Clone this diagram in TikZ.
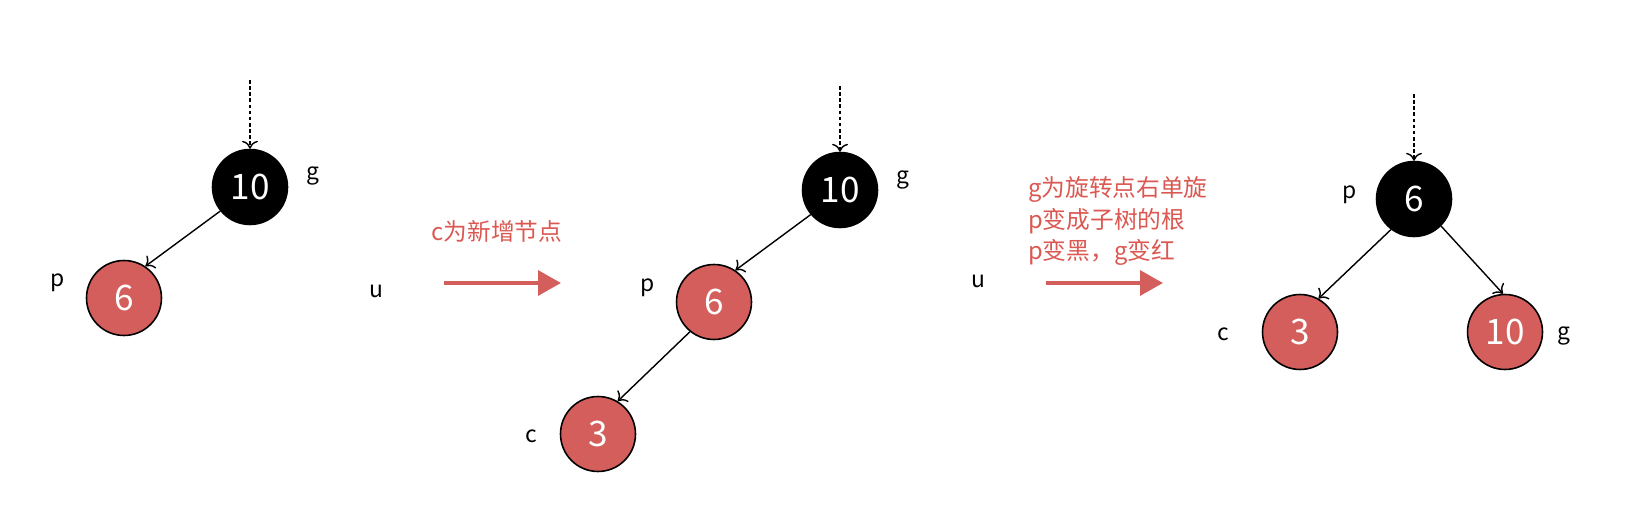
\documentclass[tikz,border=0pt]{standalone}
\usepackage{fontspec}
\setmainfont{Noto Sans CJK SC}
\usetikzlibrary{arrows.meta,positioning}
\definecolor{rbRed}{RGB}{211,94,92}
\definecolor{rbText}{RGB}{219,88,82}
\tikzset{
  rbnode/.style={circle,draw=black,line width=0.9pt,minimum size=1.5cm,inner sep=0pt,text=white,font=\fontsize{20}{24}\selectfont},
  rednode/.style={rbnode,fill=rbRed},
  blacknode/.style={rbnode,fill=black},
  tag/.style={font=\fontsize{13}{16}\selectfont},
  note/.style={text=rbText,font=\fontsize{13.5}{18}\selectfont,align=left},
  link/.style={-{To[length=4.5pt,width=9pt]},line width=0.8pt},
  entry/.style={dash pattern=on 2pt off 1.5pt,-{To[length=4.5pt,width=9pt]},line width=0.8pt},
  turn/.style={rbRed,line width=2.2pt,-{Triangle[length=13pt,width=14pt]}}
}

\begin{document}
\begin{tikzpicture}[x=0.02cm,y=-0.02cm]
    \useasboundingbox (0,0) rectangle (1632,526);

    \node[blacknode] (g1) at (250,187) {10};
    \node[rednode] (p1) at (124,298) {6};
    \coordinate (top1) at (250,80);
    \node[tag] (g1tag) at (313,176) {g};
    \node[tag] (p1tag) at (58,283) {p};
    \node[tag] (u1tag) at (376,291) {u};
    \draw[entry] (top1) -- (g1);
    \draw[link] (g1.219) -- (p1.56);

    \coordinate (a1s) at (444,283);
    \coordinate (a1e) at (561,283);
    \draw[turn] (a1s) -- (a1e);
    \node[note] (n1) at (497,231) {c为新增节点};

    \node[blacknode] (g2) at (840,190) {10};
    \node[rednode] (p2) at (714,302) {6};
    \node[rednode] (c2) at (598,434) {3};
    \coordinate (top2) at (840,86);
    \node[tag] (g2tag) at (903,180) {g};
    \node[tag] (p2tag) at (648,288) {p};
    \node[tag] (c2tag) at (531,436) {c};
    \node[tag] (u2tag) at (978,281) {u};
    \draw[entry] (top2) -- (g2);
    \draw[link] (g2.220) -- (p2.56);
    \draw[link] (p2.231) -- (c2.59);

    \coordinate (a2s) at (1046,283);
    \coordinate (a2e) at (1163,283);
    \draw[turn] (a2s) -- (a2e);
    \node[note,anchor=west] (n2) at (1022,221) {g为旋转点右单旋\\p变成子树的根\\p变黑，g变红};

    \node[blacknode] (p3) at (1414,199) {6};
    \node[rednode] (c3) at (1300,332) {3};
    \node[rednode] (g3) at (1505,332) {10};
    \coordinate (top3) at (1414,94);
    \node[tag] (p3tag) at (1350,195) {p};
    \node[tag] (c3tag) at (1223,334) {c};
    \node[tag] (g3tag) at (1564,336) {g};
    \draw[entry] (top3) -- (p3);
    \draw[link] (p3.233) -- (c3.61);
    \draw[link] (p3.315) -- (g3.93);
\end{tikzpicture}
\end{document}
